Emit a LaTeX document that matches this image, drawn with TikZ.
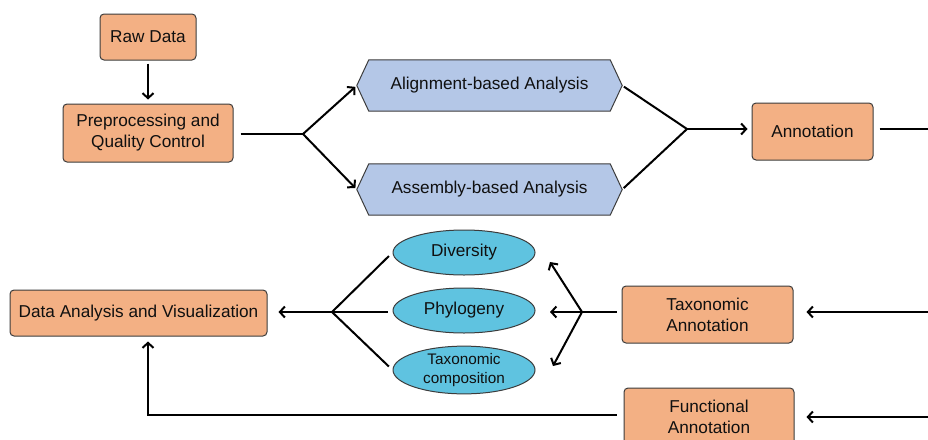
\documentclass[tikz,border=0pt]{standalone}
\usepackage{fontspec}
\setmainfont{Liberation Sans}
\usetikzlibrary{arrows.meta,shapes.geometric}
\pgfdeclarelayer{background}
\pgfsetlayers{background,main}
\definecolor{boxorange}{HTML}{F3B084}
\definecolor{hexblue}{HTML}{B4C7E7}
\definecolor{ovalcyan}{HTML}{5FC3E0}
\definecolor{edgegray}{HTML}{3C3C3C}
\definecolor{ink}{HTML}{101010}
\begin{document}
\begin{tikzpicture}[x=1pt,y=-1pt,
  every node/.style={text=ink, font=\fontsize{17.2}{21}\selectfont, align=center, inner sep=0pt},
  stagebox/.style={draw=edgegray, line width=1pt, fill=boxorange, rounded corners=4pt},
  hexnode/.style={minimum width=265pt, minimum height=51pt},
  hexfill/.style={draw=edgegray, line width=1pt, fill=hexblue},
  oval/.style={ellipse, draw=edgegray, line width=1pt, fill=ovalcyan, minimum width=142pt, minimum height=45pt},
  link/.style={line width=2pt, draw=black},
  arr/.style={link, -{Straight Barb[length=5pt,width=11pt]}}
]
\useasboundingbox (0,0) rectangle (928,439);
\clip (0,0) rectangle (928,439);

% processing stages
\node[stagebox, minimum width=96pt, minimum height=46pt] (raw) at (148,37) {Raw Data};
\node[stagebox, minimum width=170pt, minimum height=58pt] (prep) at (148,133) {Preprocessing and\\Quality Control};
\node[hexnode] (align) at (489.5,85.5) {Alignment-based Analysis};
\node[hexnode] (assem) at (489.5,189.5) {Assembly-based Analysis};
\node[stagebox, minimum width=121pt, minimum height=57pt] (annot) at (812.5,131.5) {Annotation};

\node[stagebox, minimum width=257pt, minimum height=46pt] (dav) at (138.5,313) {Data Analysis and Visualization};
\node[stagebox, minimum width=171pt, minimum height=57pt] (taxo) at (707.5,314.5) {Taxonomic\\Annotation};
\node[stagebox, minimum width=170pt, minimum height=57pt] (func) at (709,416.5) {Functional\\Annotation};

\node[oval] (div) at (464,252.5) {Diversity};
\node[oval] (phy) at (464,310.5) {Phylogeny};
\node[oval, font=\fontsize{15.3}{19.5}\selectfont] (comp) at (464,370) {Taxonomic\\composition};

% hexagonal outlines behind the analysis labels
\begin{pgfonlayer}{background}
\foreach \h in {align,assem}{
  \draw[hexfill] (\h.west) -- ([xshift=12pt]\h.north west) -- ([xshift=-12pt]\h.north east)
    -- (\h.east) -- ([xshift=-12pt]\h.south east) -- ([xshift=12pt]\h.south west) -- cycle;
}
\end{pgfonlayer}

% branch points and free ends
\coordinate (split) at (303,134);
\coordinate (merge) at (687,129);
\coordinate (fan) at (582,312);
\coordinate (gather) at (332,312);
\coordinate (edgeA) at (928,129);
\coordinate (edgeT) at (928,312);
\coordinate (edgeF) at (928,417);
\coordinate (tipD) at (550,262);
\coordinate (tipP) at (550,312);
\coordinate (tipC) at (553,366);

% connectors
\draw[arr, shorten <=3pt, shorten >=4pt] (raw) -- (prep);
\draw[link, shorten <=7pt] (prep.east |- split) -- (split);
\draw[arr, shorten >=2pt] (split) -- (align.west);
\draw[arr, shorten >=2pt] (split) -- (assem.west);
\draw[link, shorten <=2pt] (align.east) -- (merge);
\draw[link, shorten <=2pt] (assem.east) -- (merge);
\draw[arr, shorten >=4pt] (merge) -- (annot.west |- merge);
\draw[link, shorten <=6pt] (annot.east |- edgeA) -- (edgeA);

\draw[arr, shorten >=13pt] (edgeT) -- (taxo.east |- edgeT);
\draw[arr, shorten >=12pt] (edgeF) -- (func.east |- edgeF);
\draw[link, shorten <=5pt] (taxo.west |- fan) -- (fan);
\draw[arr] (fan) -- (tipD);
\draw[arr] (fan) -- (tipP);
\draw[arr] (fan) -- (tipC);

\draw[link, shorten <=5pt] (div.west) -- (gather);
\draw[link, shorten <=5pt] (phy.west |- gather) -- (gather);
\draw[link, shorten <=5pt] (comp.west) -- (gather);
\draw[arr, shorten >=11pt] (gather) -- (dav.east |- gather);

\draw[arr, shorten <=7pt, shorten >=5pt] ([yshift=1.5pt]func.west) -| ([xshift=9.5pt]dav.south);
\end{tikzpicture}
\end{document}
